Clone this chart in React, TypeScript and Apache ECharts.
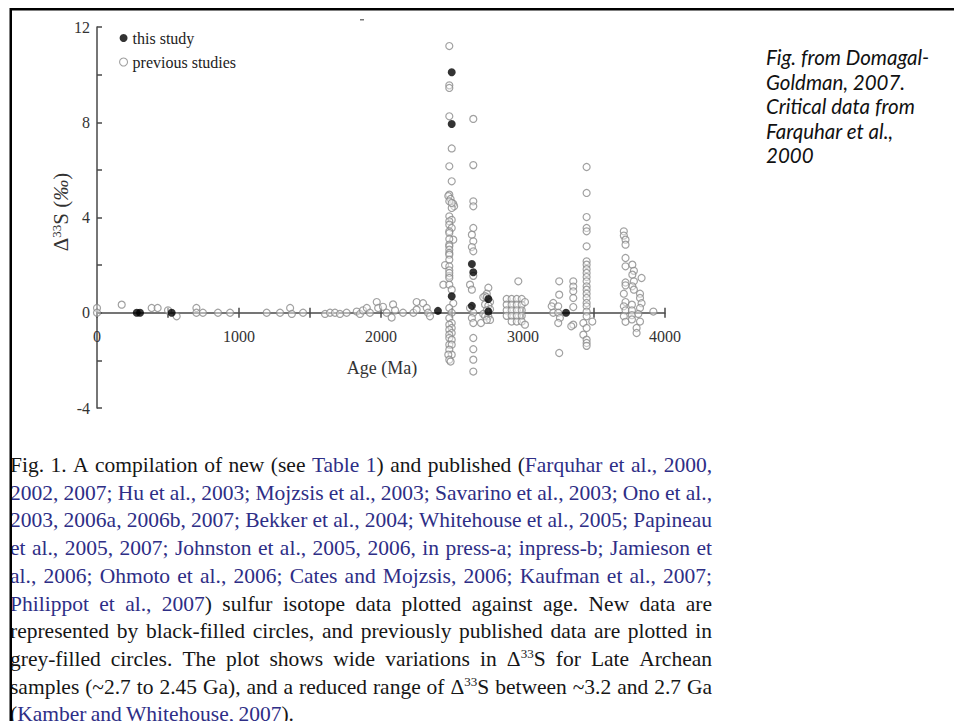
import React, { useEffect, useRef } from "react";
import * as echarts from "echarts";

// ---------- data (age in Ma, Δ33S in ‰) ----------
const thisStudy: number[][] = [
  [280, 0], [303, 0], [526, 0], [2401, 0.08], [2498, 10.1], [2498, 7.93], [2498, 0.69],
  [2640, 2.05], [2650, 1.7], [2640, 0.29], [2756, 0.58], [2756, 0.05], [3303, 0],
];

const prevYoung: number[][] = [
  [0, 0.2], [0, 0], [174, 0.34], [385, 0.2], [427, 0.2], [500, 0.1], [561, -0.15], [700, 0.2], [700, 0],
  [746, 0], [852, 0], [937, 0], [1195, 0], [1289, 0], [1360, 0.2], [1372, -0.05], [1451, 0], [1606, -0.05],
  [1641, 0], [1676, 0], [1711, -0.05], [1758, 0], [1829, 0.05], [1852, -0.05], [1873, 0.1], [1900, 0.2],
  [1922, 0], [1970, 0.45], [1980, 0.2], [2014, 0.25], [2040, 0], [2075, -0.2], [2085, 0.35], [2099, 0.1],
  [2155, 0], [2228, 0], [2251, 0.45], [2251, 0.13], [2296, 0.4], [2322, 0.2], [2331, 0], [2345, -0.15],
];

const prevCol2480: number[][] = [
  [2481, 11.2], [2481, 9.55], [2481, 9.44], [2481, 8.25], [2498, 6.9], [2481, 6.15], [2498, 5.52],
  [2481, 4.96], [2474, 4.9], [2490, 4.78], [2509, 4.58], [2515, 4.47], [2498, 4.4], [2481, 4.68],
  [2498, 4.61], [2481, 4.05], [2498, 3.9], [2481, 3.84], [2481, 3.7], [2498, 3.56], [2481, 3.42],
  [2481, 3.35], [2509, 3.07], [2481, 3.1], [2481, 2.86], [2481, 2.79], [2481, 2.65], [2481, 2.51],
  [2481, 2.44], [2481, 2.23], [2451, 2.0], [2481, 1.95], [2481, 1.78], [2481, 1.55], [2481, 1.67],
  [2481, 1.46], [2439, 1.18], [2481, 1.18], [2498, 0.97], [2509, 0.4], [2481, 0.2], [2498, 0],
  [2481, -0.22], [2498, -0.43], [2481, -0.5], [2498, -0.64], [2481, -0.71], [2498, -0.85], [2481, -0.92],
  [2481, -1.06], [2498, -1.13], [2481, -1.34], [2498, -1.34], [2481, -1.55], [2498, -1.76], [2474, -1.76],
  [2481, -1.97], [2490, -2.05],
];

const prevCol2650: number[][] = [
  [2650, 8.14], [2650, 6.2], [2650, 4.68], [2650, 4.47], [2650, 3.56], [2640, 3.28], [2650, 3.0],
  [2640, 2.76], [2650, 2.58], [2650, 1.55], [2627, 1.18], [2640, 0.97], [2627, 0.2], [2650, 0],
  [2640, -0.22], [2650, -0.43], [2650, -1.06], [2650, -1.53], [2650, -1.97], [2650, -2.47],
];

const prevCluster2740: number[][] = [
  [2756, 1.05], [2745, 0.8], [2733, 0.7], [2720, 0.65], [2745, 0.65], [2768, 0.45], [2733, 0.35],
  [2756, 0.3], [2768, 0.15], [2745, 0.1], [2720, -0.05], [2733, -0.15], [2756, -0.15], [2768, -0.3],
  [2704, -0.43], [2745, -0.3],
];

const prevCluster3000: number[][] = [
  [2885, 0.58], [2920, 0.58], [2956, 0.58], [2991, 0.58], [2885, 0.34], [2920, 0.34], [2956, 0.34],
  [2991, 0.34], [3014, 0.45], [2885, 0.1], [2920, 0.1], [2956, 0.1], [2991, 0.1], [2885, -0.13],
  [2920, -0.13], [2956, -0.13], [2991, -0.13], [2920, -0.37], [2956, -0.37], [2991, -0.37], [3014, -0.5],
  [2967, 1.32],
];

const prevCluster3250: number[][] = [
  [3255, 1.32], [3255, 0.76], [3213, 0.41], [3202, 0.27], [3248, 0.27], [3213, 0], [3248, 0],
  [3260, -0.22], [3248, -0.43], [3255, -1.69], [3354, 1.32], [3354, 1.1], [3354, 0.9], [3354, 0.62],
  [3354, 0.24], [3354, -0.5], [3340, -0.57],
];

const prevCol3450: number[][] = [
  [3448, 6.12], [3448, 5.03], [3448, 4.02], [3448, 3.56], [3448, 3.42], [3448, 2.79], [3448, 2.16],
  [3448, 2.02], [3448, 1.83], [3448, 1.67], [3448, 1.5], [3448, 1.32], [3448, 1.11], [3448, 0.97],
  [3448, 0.8], [3448, 0.62], [3448, 0.41], [3448, 0.27], [3448, 0.05], [3448, -0.15], [3425, -0.43],
  [3448, -0.64], [3425, -0.92], [3448, -1.13], [3448, -1.27], [3448, -1.39], [3488, -0.37],
];

const prevCluster3750: number[][] = [
  [3710, 3.42], [3710, 3.24], [3722, 3.07], [3722, 2.86], [3722, 2.3], [3722, 1.95], [3770, 2.02],
  [3781, 1.76], [3770, 1.6], [3781, 1.32], [3770, 1.11], [3781, 0.97], [3835, 1.46], [3722, 1.27],
  [3722, 1.15], [3710, 0.8], [3722, 0.45], [3710, 0.27], [3722, 0.1], [3710, -0.15], [3722, -0.38],
  [3767, 0.34], [3767, 0.1], [3767, -0.1], [3767, -0.28], [3824, 0.8], [3824, 0.62], [3835, 0.4],
  [3824, 0.2], [3812, -0.05], [3824, -0.37], [3800, -0.64], [3800, -0.85], [3918, 0.05],
];

const previousStudies = [
  ...prevYoung, ...prevCol2480, ...prevCol2650, ...prevCluster2740,
  ...prevCluster3000, ...prevCluster3250, ...prevCol3450, ...prevCluster3750,
];

const xMin = 0, xMax = 4000, xStep = 500, xLabelStep = 1000;
const yMin = -4, yMax = 12, yStep = 2, yLabelStep = 4;

const noteLines = ["Fig. from Domagal-", "Goldman, 2007.", "Critical data from", "Farquhar et al.,", "2000"];

// [ ] = blue citation text, ^ ... _ = superscript
const captionLines = [
  "Fig. 1. A compilation of new (see [Table 1]) and published ([Farquhar et al., 2000,",
  "[2002, 2007; Hu et al., 2003; Mojzsis et al., 2003; Savarino et al., 2003; Ono et al.,",
  "[2003, 2006a, 2006b, 2007; Bekker et al., 2004; Whitehouse et al., 2005; Papineau",
  "[et al., 2005, 2007; Johnston et al., 2005, 2006, in press-a; inpress-b; Jamieson et",
  "[al., 2006; Ohmoto et al., 2006; Cates and Mojzsis, 2006; Kaufman et al., 2007;",
  "[Philippot et al., 2007]) sulfur isotope data plotted against age. New data are",
  "represented by black-filled circles, and previously published data are plotted in",
  "grey-filled circles. The plot shows wide variations in Δ^33_S for Late Archean",
  "samples (~2.7 to 2.45 Ga), and a reduced range of Δ^33_S between ~3.2 and 2.7 Ga",
  "([Kamber and Whitehouse, 2007]).",
];

const SERIF = '"Liberation Serif", "Times New Roman", serif';
const NOTE_FONT = 'Lato, "Open Sans", sans-serif';
const BLUE = "#2e2e86";
const INK = "#161616";

function buildCaption(): any[] {
  const ctx = document.createElement("canvas").getContext("2d")!;
  const fs = 21.5, sfs = 13;
  const baseScale = 1;
  const measure = (t: string, size: number) => {
    ctx.font = `${size}px ${SERIF}`;
    return ctx.measureText(t).width;
  };
  const left = 10, right = 712, W = right - left;
  const y0 = 465, dy = 27.7;
  const rich = {
    k: { fill: INK, fontFamily: SERIF, fontSize: fs, lineHeight: 24, verticalAlign: "middle" },
    b: { fill: BLUE, fontFamily: SERIF, fontSize: fs, lineHeight: 24, verticalAlign: "middle" },
    ks: { fill: INK, fontFamily: SERIF, fontSize: sfs, lineHeight: 13, verticalAlign: "top" },
    bs: { fill: BLUE, fontFamily: SERIF, fontSize: sfs, lineHeight: 13, verticalAlign: "top" },
  };
  const els: any[] = [];
  const sp = measure(" ", fs);
  captionLines.forEach((line, i) => {
    type Seg = { t: string; blue: boolean; sup: boolean };
    const words: Seg[][] = [[]];
    let blue = false, sup = false;
    for (const c of line) {
      if (c === "[") { blue = true; continue; }
      if (c === "]") { blue = false; continue; }
      if (c === "^") { sup = true; continue; }
      if (c === "_") { sup = false; continue; }
      if (c === " ") { words.push([]); continue; }
      const w = words[words.length - 1];
      const last = w[w.length - 1];
      if (last && last.blue === blue && last.sup === sup) last.t += c;
      else w.push({ t: c, blue, sup });
    }
    const widths = words.map((w) => w.reduce((s, g) => s + measure(g.t, g.sup ? sfs : fs), 0));
    const total = widths.reduce((a, b) => a + b, 0);
    const n = words.length;
    const isLast = i === captionLines.length - 1;
    let scale = baseScale, gap = sp * 0.8 * baseScale;
    if (!isLast && n > 1) {
      const minGap = sp * 0.5 * baseScale;
      if (total * baseScale + minGap * (n - 1) > W) {
        scale = W / (total + sp * 0.5 * (n - 1));
        gap = sp * 0.5 * scale;
      } else {
        gap = (W - total * baseScale) / (n - 1);
      }
    }
    let x = left;
    words.forEach((w, j) => {
      const text = w.map((g) => `{${(g.blue ? "b" : "k") + (g.sup ? "s" : "")}|${g.t}}`).join("");
      els.push({
        type: "text",
        x,
        y: y0 + i * dy,
        scaleX: scale,
        z: 10,
        style: { text, rich, fontFamily: SERIF, fontSize: fs, verticalAlign: "middle", align: "left" },
      });
      x += widths[j] * scale + gap;
    });
  });
  return els;
}

export default function App() {
  const ref = useRef<HTMLDivElement>(null);
  useEffect(() => {
    if (!ref.current) return;
    const chart = echarts.init(ref.current, null, { renderer: "svg" });
    const axisColor = "#484848";
    const labelStyle = { fontFamily: SERIF, fontSize: 16, color: "#333" };
    const xAxisBase = {
      type: "value",
      min: xMin,
      max: xMax,
      interval: xStep,
      position: "bottom",
      splitLine: { show: false },
    };
    const graphic: any[] = [
      // frame
      { type: "rect", z: 100, shape: { x: 10, y: 8, width: 944, height: 2.5 }, style: { fill: "#000" } },
      { type: "rect", z: 100, shape: { x: 9.5, y: 8, width: 2.5, height: 713 }, style: { fill: "#000" } },
      // small scanning mark near the top of the figure
      { type: "rect", shape: { x: 360, y: 19, width: 4, height: 1.5 }, style: { fill: "#777" } },
      // axis names
      {
        type: "text",
        x: 61,
        y: 212,
        rotation: Math.PI / 2,
        style: {
          text: "{d|Δ}{s|33}{d|S (}{i|‰}{d|)}",
          align: "center",
          verticalAlign: "middle",
          rich: {
            d: { fill: "#333", fontFamily: SERIF, fontSize: 21, lineHeight: 22, verticalAlign: "middle" },
            s: { fill: "#333", fontFamily: SERIF, fontSize: 13, lineHeight: 13, verticalAlign: "top" },
            i: { fill: "#333", fontFamily: SERIF, fontSize: 21, fontStyle: "italic", lineHeight: 22, verticalAlign: "middle" },
          },
        },
      },
      {
        type: "text",
        x: 382,
        y: 368,
        style: { text: "Age (Ma)", fill: "#333", fontFamily: SERIF, fontSize: 18, align: "center", verticalAlign: "middle" },
      },
      ...noteLines.map((t, i) => ({
        type: "text",
        x: 766,
        y: 57 + i * 24.5,
        style: {
          text: t,
          fill: "#111",
          fontFamily: NOTE_FONT,
          fontStyle: "italic",
          fontSize: 20.5,
          align: "left",
          verticalAlign: "middle",
        },
      })),
      ...buildCaption(),
    ];
    chart.setOption({
      animation: false,
      backgroundColor: "#fff",
      grid: { left: 97, right: 289, top: 27, bottom: 313 },
      legend: {
        orient: "vertical",
        left: 114,
        top: 25,
        itemWidth: 8,
        itemHeight: 8,
        itemGap: 8,
        selectedMode: false,
        textStyle: { fontFamily: SERIF, fontSize: 16, color: "#222", lineHeight: 16 },
        data: [
          { name: "this study", icon: "circle", itemStyle: { color: "#000" } },
          {
            name: "previous studies",
            icon: "circle",
            itemStyle: { color: "#fff", borderColor: "#888", borderWidth: 1.1 },
          },
        ],
      },
      xAxis: [
        {
          // labels only, shifted up onto the zero line
          ...xAxisBase,
          offset: -95,
          axisLine: { show: false, onZero: false },
          axisTick: { show: false },
          axisLabel: {
            ...labelStyle,
            margin: 15,
            formatter: (v: number) => (v % xLabelStep === 0 ? String(v) : ""),
          },
        },
        {
          ...xAxisBase,
          axisLine: { show: true, onZero: true, onZeroAxisIndex: 0, lineStyle: { color: axisColor, width: 1.5 } },
          axisTick: { show: true, inside: false, length: 5, lineStyle: { color: axisColor, width: 1.5 } },
          axisLabel: { show: false },
        },
        {
          ...xAxisBase,
          axisLine: { show: false, onZero: true, onZeroAxisIndex: 0 },
          axisTick: { show: true, inside: true, length: 5, lineStyle: { color: axisColor, width: 1.5 } },
          axisLabel: { show: false },
        },
      ],
      yAxis: {
        type: "value",
        min: yMin,
        max: yMax,
        interval: yStep,
        splitLine: { show: false },
        axisLine: { show: true, onZero: false, lineStyle: { color: axisColor, width: 1.5 } },
        axisTick: { show: true, inside: true, length: 5, lineStyle: { color: axisColor, width: 1.5 } },
        axisLabel: {
          ...labelStyle,
          margin: 7,
          formatter: (v: number) => (v % yLabelStep === 0 ? String(v) : ""),
        },
      },
      series: [
        {
          type: "scatter",
          name: "previous studies",
          data: previousStudies,
          symbol: "circle",
          symbolSize: 7,
          itemStyle: { color: "rgba(255,255,255,0.55)", borderColor: "#8a8a8a", borderWidth: 1.2 },
          z: 3,
        },
        {
          type: "scatter",
          name: "this study",
          data: thisStudy,
          symbol: "circle",
          symbolSize: 8,
          itemStyle: { color: "#000" },
          z: 4,
        },
      ],
      graphic,
    });
    return () => chart.dispose();
  }, []);
  return <div ref={ref} style={{ position: "fixed", left: 0, top: 0, width: 954, height: 721 }} />;
}
